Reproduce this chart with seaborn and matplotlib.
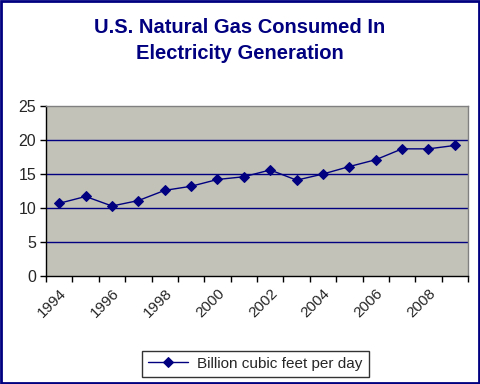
import numpy as np
import pandas as pd
import seaborn as sns
import matplotlib.pyplot as plt
from matplotlib.ticker import FixedLocator
from matplotlib.patches import Rectangle

sns.set_style('white')
plt.rcParams['font.family'] = ['Liberation Sans', 'DejaVu Sans']

years = list(range(1994, 2010))
gas = [10.7, 11.7, 10.3, 11.1, 12.6, 13.2, 14.2, 14.6, 15.6, 14.1, 15.0, 16.1, 17.1, 18.7, 18.7, 19.2]
year_labels = [str(y) for y in range(1994, 2010, 2)]

df = pd.DataFrame({'year': years, 'Billion cubic feet per day': gas})

fig = plt.figure(figsize=(4.8, 3.84), dpi=100)
fig.patch.set_facecolor('white')
# navy frame around the whole chart
fig.patches.append(Rectangle((0.002, 0.003), 0.995, 0.994, transform=fig.transFigure,
                             fill=False, edgecolor='#000080', linewidth=2))

ax = fig.add_axes([0.096, 0.281, 0.879, 0.443])
ax.set_facecolor('#C2C2B8')

sns.lineplot(data=df, x='year', y='Billion cubic feet per day', ax=ax, color='#000080',
             marker='D', markersize=5, linewidth=1, markeredgecolor='#000080',
             label='Billion cubic feet per day', legend=False)

ax.set_xlim(1993.5, 2009.5)
ax.set_ylim(0, 25)
ax.set_yticks(range(0, 26, 5))
for v in range(5, 25, 5):
    ax.axhline(v, color='#000080', linewidth=1, zorder=0.5)

ax.set_xticks([int(y) for y in year_labels])
ax.set_xticklabels(year_labels, rotation=45, ha='right', rotation_mode='anchor')
ax.xaxis.set_minor_locator(FixedLocator(np.arange(1993.5, 2010, 1)))
ax.tick_params(axis='x', which='major', length=0, pad=7, labelsize=11)
ax.tick_params(axis='x', which='minor', length=4, width=1, color='black', direction='out', bottom=True)
ax.tick_params(axis='y', length=4, width=1, color='black', direction='out', left=True, labelsize=11.5, pad=3)
ax.set_xlabel('')
ax.set_ylabel('')

for s in ['top', 'right']:
    ax.spines[s].set_color('#808080')
for s in ['left', 'bottom']:
    ax.spines[s].set_color('black')
for s in ax.spines.values():
    s.set_linewidth(1)

fig.text(0.5, 0.894, 'U.S. Natural Gas Consumed In\nElectricity Generation', ha='center', va='center',
         fontsize=14.5, fontweight='bold', color='#000080', linespacing=1.45)

h, l = ax.get_legend_handles_labels()
leg = fig.legend(h, l, loc='center', bbox_to_anchor=(0.532, 0.053), frameon=True, fancybox=False,
                 edgecolor='black', fontsize=11, handlelength=2.6, borderpad=0.4, handletextpad=0.6)
leg.get_frame().set_linewidth(1)

plt.savefig('out.png', dpi=100)
